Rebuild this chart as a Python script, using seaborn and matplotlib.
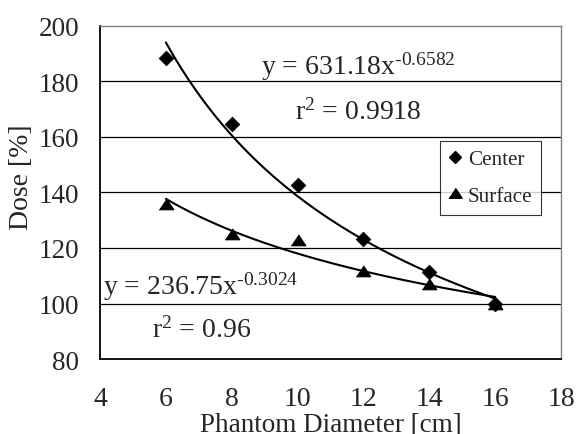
import numpy as np
import pandas as pd
import matplotlib
matplotlib.use("Agg")
import matplotlib.pyplot as plt
from matplotlib.lines import Line2D
import seaborn as sns

# measured points
diameter = [6, 8, 10, 12, 14, 16]
center_dose = [188.6, 164.8, 142.7, 123.2, 111.3, 100.0]
surface_dose = [135.8, 125.0, 123.0, 111.6, 107.0, 99.8]

# power-law trendlines as printed on the chart
center_fit = (631.18, -0.6582, 0.9918)
surface_fit = (236.75, -0.3024, 0.96)

x_ticks = [4, 6, 8, 10, 12, 14, 16, 18]
y_ticks = [80, 100, 120, 140, 160, 180, 200]

# slightly squat triangle, like the original
TRI = [(-1.0, -0.72), (1.0, -0.72), (0.0, 0.78)]


def main():
    sns.set_style("white")
    plt.rcParams['font.family'] = ['Liberation Serif', 'DejaVu Serif']
    plt.rcParams['mathtext.fontset'] = 'custom'
    plt.rcParams['mathtext.rm'] = 'Liberation Serif'
    plt.rcParams['mathtext.it'] = 'Liberation Serif'

    fig = plt.figure(figsize=(5.76, 4.35), dpi=100)
    ax = fig.add_axes([0.1736, 0.1724, 0.8004, 0.7656])

    df = pd.DataFrame({'d': diameter, 'center': center_dose, 'surface': surface_dose})

    xs = np.linspace(min(diameter), max(diameter), 200)
    for a, b, _ in (center_fit, surface_fit):
        sns.lineplot(x=xs, y=a * xs ** b, color='black', lw=1.5, ax=ax)

    sns.scatterplot(data=df, x='d', y='center', marker='D', s=55, color='black',
                    edgecolor='black', ax=ax, zorder=3)
    sns.scatterplot(data=df, x='d', y='surface', marker=TRI, s=110, color='black',
                    edgecolor='black', ax=ax, zorder=3)

    ax.set_xlim(4, 18)
    ax.set_ylim(80, 200)
    ax.set_xticks(x_ticks)
    ax.set_yticks(y_ticks)
    for y in y_ticks[1:-1]:
        ax.axhline(y, color='black', lw=0.9, zorder=1)

    ax.tick_params(axis='x', direction='in', length=6, width=1, pad=19.5,
                   labelsize=20, color='black')
    ax.tick_params(axis='y', length=0, pad=15, labelsize=19.5)
    for s in ('left', 'bottom'):
        ax.spines[s].set_color('black')
        ax.spines[s].set_linewidth(1.3)
    for s in ('top', 'right'):
        ax.spines[s].set_color('#808080')
        ax.spines[s].set_linewidth(1.0)

    ax.set_xlabel('Phantom Diameter [cm]', fontsize=19.5)
    ax.xaxis.set_label_coords(0.5, -0.158)
    ax.set_ylabel('Dose [%]', fontsize=20)
    ax.yaxis.set_label_coords(-0.143, 0.548)

    ax.text(8.88, 182.7, r'y = 631.18x$^{\text{-0.6582}}$', fontsize=20, va='baseline')
    ax.text(9.92, 166.7, r'r$^{2}$ = 0.9918', fontsize=20, va='baseline')
    ax.text(4.08, 103.4, r'y = 236.75x$^{\text{-0.3024}}$', fontsize=20, va='baseline')
    ax.text(5.57, 88.2, r'r$^{2}$ = 0.96', fontsize=20, va='baseline')

    handles = [
        Line2D([], [], ls='none', marker='D', color='black', markersize=6.5, label='Center'),
        Line2D([], [], ls='none', marker=TRI, color='black', markersize=9.5, label='Surface'),
    ]
    leg = ax.legend(handles=handles, loc='upper left', bbox_to_anchor=(0.7375, 0.656),
                    fontsize=15.2, frameon=True, fancybox=False, handlelength=0.6,
                    handletextpad=0.3, borderpad=0.42, labelspacing=0.8,
                    borderaxespad=0)
    leg.get_frame().set_edgecolor('black')
    leg.get_frame().set_linewidth(0.8)

    fig.savefig('out.png', dpi=100)
    plt.close(fig)


if __name__ == "__main__":
    main()
